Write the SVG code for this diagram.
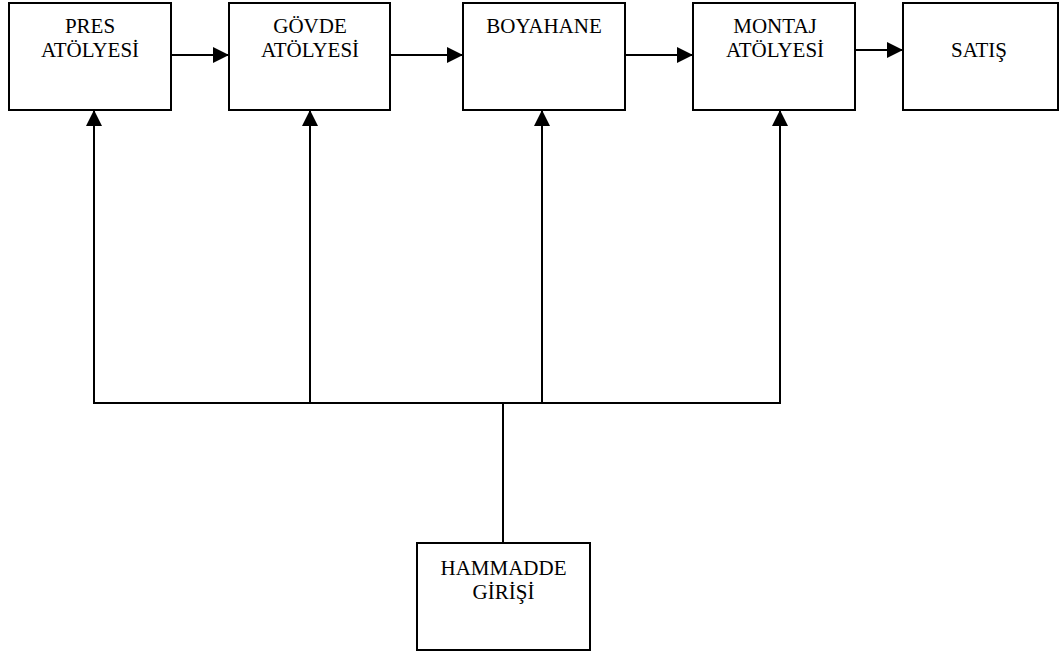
<svg xmlns="http://www.w3.org/2000/svg" width="1060" height="655" viewBox="0 0 1060 655">
<style>
.box{fill:#fff;stroke:#000;stroke-width:2}
.lbl{font-family:"Liberation Serif","Times New Roman",serif;font-size:21px;fill:#000;text-anchor:middle}
.ln{stroke:#000;stroke-width:2;fill:none}
</style>
<defs>
<marker id="ah" markerWidth="16" markerHeight="16" viewBox="0 0 16 16" refX="16" refY="8" orient="auto" markerUnits="userSpaceOnUse">
<path d="M0,0 L16,8 L0,16 Z" fill="#000"/>
</marker>
</defs>
<rect width="1060" height="655" fill="#fff"/>
<g id="pres"><rect class="box" x="9" y="3" width="162" height="107"/><text class="lbl" x="90" y="33">PRES</text><text class="lbl" x="90" y="57">ATÖLYESİ</text></g>
<g id="govde"><rect class="box" x="229" y="3" width="161" height="107"/><text class="lbl" x="310" y="33">GÖVDE</text><text class="lbl" x="310" y="57">ATÖLYESİ</text></g>
<g id="boyahane"><rect class="box" x="463" y="3" width="162" height="107"/><text class="lbl" x="544" y="33">BOYAHANE</text></g>
<g id="montaj"><rect class="box" x="693" y="3" width="162" height="107"/><text class="lbl" x="775" y="33">MONTAJ</text><text class="lbl" x="775" y="57">ATÖLYESİ</text></g>
<g id="satis"><rect class="box" x="903" y="3" width="155" height="107"/><text class="lbl" x="979" y="57">SATIŞ</text></g>
<g id="hammadde"><rect class="box" x="417" y="543" width="173" height="107"/><text class="lbl" x="503.5" y="575">HAMMADDE</text><text class="lbl" x="503.5" y="599">GİRİŞİ</text></g>
<g id="connectors">
<line class="ln" x1="171" y1="55" x2="229" y2="55" marker-end="url(#ah)"/>
<line class="ln" x1="390" y1="55" x2="463" y2="55" marker-end="url(#ah)"/>
<line class="ln" x1="625" y1="55" x2="693" y2="55" marker-end="url(#ah)"/>
<line class="ln" x1="855" y1="50" x2="903" y2="50" marker-end="url(#ah)"/>
<line class="ln" x1="93" y1="403" x2="781" y2="403"/>
<line class="ln" x1="503" y1="403" x2="503" y2="543"/>
<line class="ln" x1="94" y1="403" x2="94" y2="110" marker-end="url(#ah)"/>
<line class="ln" x1="310" y1="403" x2="310" y2="110" marker-end="url(#ah)"/>
<line class="ln" x1="542" y1="403" x2="542" y2="110" marker-end="url(#ah)"/>
<line class="ln" x1="780" y1="403" x2="780" y2="110" marker-end="url(#ah)"/>
</g>
</svg>
